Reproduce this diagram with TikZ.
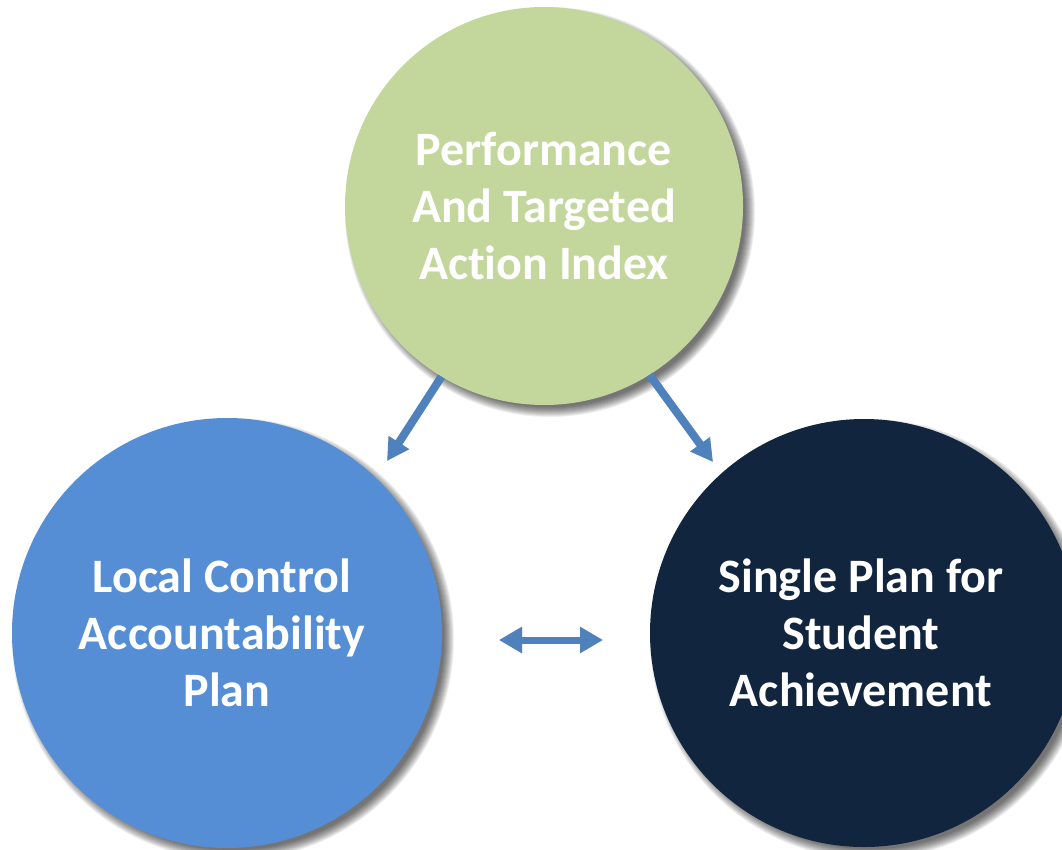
\documentclass[tikz,border=0pt]{standalone}
\usepackage{fontspec}
\setmainfont{Carlito}[Ligatures=NoCommon]
\usetikzlibrary{arrows.meta,calc}

\definecolor{pgreen}{HTML}{C3D69B}
\definecolor{pblue}{HTML}{558ED5}
\definecolor{pnavy}{HTML}{12253F}
\definecolor{arrowblue}{HTML}{4F81BD}

\tikzset{
  bubble/.style={circle, inner sep=0pt, minimum size=#1, align=center,
    text=white, font=\fontsize{48}{57}\selectfont\bfseries},
  flow/.style={arrowblue, line width=8pt,
    -{Triangle[width=23pt,length=22pt]}},
  twoway/.style={arrowblue, line width=7pt,
    {Triangle[width=25pt,length=23pt]}-{Triangle[width=25pt,length=23pt]}},
}

% soft drop shadow under a disc: centre, radius
\newcommand{\discshadow}[2]{%
  \foreach \i in {0,...,10}{
    \fill[black, opacity=0.065] ($#1+(6,6)$) circle[radius=#2-4+\i];
  }%
}

\begin{document}
\begin{tikzpicture}[x=1pt, y=-1pt]
  \useasboundingbox (0,0) rectangle (1062,849);
  \fill[white] (0,0) rectangle (1062,849);

  % shadows
  \discshadow{(544,206)}{199}
  \discshadow{(227,633)}{215}
  \discshadow{(864,633)}{214}

  % circles
  \node[bubble=398pt, fill=pgreen] (patai) at (544,206)
    {Performance\\And Targeted\\Action Index};
  \node[bubble=430pt, fill=pblue] (lcap) at (227,633)
    {\hspace*{-10pt}Local Control\\\hspace*{-10pt}Accountability\\Plan};
  \node[bubble=428pt, fill=pnavy] (spsa) at (864,633)
    {\hspace*{-6pt}Single Plan for\\\hspace*{-6pt}Student\\\hspace*{-6pt}Achievement};

  % arrow ends
  \coordinate (tipL) at (387,461);
  \coordinate (tipR) at (713,462);
  \coordinate (dblL) at (499,640);
  \coordinate (dblR) at (603,640);

  % arrow shadows
  \begin{scope}[opacity=0.12, shift={(3,4)}]
    \draw[flow, black] (patai.239) -- (tipL);
    \draw[flow, black] (patai.302) -- (tipR);
    \draw[twoway, black] (dblL) -- (dblR);
  \end{scope}

  % arrows
  \draw[flow] (patai.239) -- (tipL);
  \draw[flow] (patai.302) -- (tipR);
  \draw[twoway] (dblL) -- (dblR);
\end{tikzpicture}
\end{document}
